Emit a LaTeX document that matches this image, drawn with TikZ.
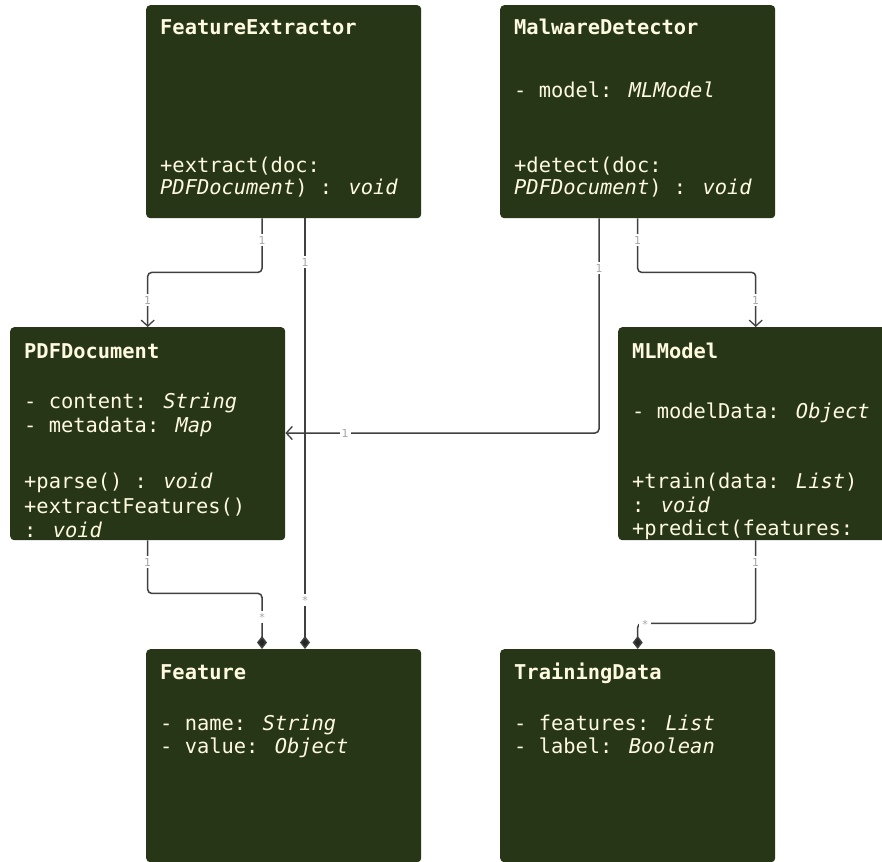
\documentclass[tikz,border=0pt]{standalone}
\usepackage{fontspec}
\usetikzlibrary{arrows.meta,calc}
\newfontfamily\codefont{DejaVu Sans Mono}
\newfontfamily\lblfont{DejaVu Sans}
\definecolor{boxc}{HTML}{283618}
\definecolor{txtc}{HTML}{FEFAE0}
\definecolor{linec}{HTML}{404040}
\tikzset{
  classbox/.style={fill=boxc, rounded corners=4pt, minimum width=275pt,
    minimum height=213pt, inner sep=0pt, anchor=north west},
  member/.style={anchor=base west, inner sep=0pt, text=txtc,
    font=\codefont\fontsize{20.4}{24}\selectfont},
  cname/.style={member, font=\codefont\bfseries\fontsize{20.4}{24}\selectfont},
  conn/.style={draw=linec, line width=1.5pt, rounded corners=4pt},
  assoc/.style={conn, -{Straight Barb[length=6pt,width=13pt,line width=1.3pt]}},
  compo/.style={conn, -{Diamond[length=13pt,width=10pt,fill=black!85]}},
  mult/.style={fill=white, inner sep=2pt, text=black!35,
    font=\lblfont\fontsize{11}{12}\selectfont},
}
\begin{document}
\begin{tikzpicture}[x=1pt,y=-1pt]
\path[use as bounding box, clip] (0,0) rectangle (882,861);
\fill[white] (0,0) rectangle (882,861);

% class boxes
\node[classbox] (fe)  at (146,5)   {};
\node[classbox] (md)  at (500,5)   {};
\node[classbox] (pdf) at (10,327)  {};
\node[classbox] (ml)  at (618,327) {};
\node[classbox] (ft)  at (146,649) {};
\node[classbox] (td)  at (500,649) {};

% FeatureExtractor
\node[cname]  (fe0) at (160,35)  {FeatureExtractor};
\node[member] (fe1) at (160,172) {+extract(doc:};
\node[member] (fe2) at (160,194) {\itshape PDFDocument\upshape) : \itshape void};

% MalwareDetector
\node[cname]  (md0) at (514,35)  {MalwareDetector};
\node[member] (md1) at (514,98)  {- model: \itshape MLModel};
\node[member] (md2) at (514,172) {+detect(doc:};
\node[member] (md3) at (514,194) {\itshape PDFDocument\upshape) : \itshape void};

% PDFDocument
\node[cname]  (pd0) at (24,358)  {PDFDocument};
\node[member] (pd1) at (24,408)  {- content: \itshape String};
\node[member] (pd2) at (24,432)  {- metadata: \itshape Map};
\node[member] (pd3) at (24,488)  {+parse() : \itshape void};
\node[member] (pd4) at (24,513)  {+extractFeatures()};
\node[member] (pd5) at (24,537)  {: \itshape void};

% MLModel
\node[cname]  (ml0) at (632,358) {MLModel};
\node[member] (ml1) at (632,418) {- modelData: \itshape Object};
\node[member] (ml2) at (632,488) {+train(data: \itshape List\upshape)};
\node[member] (ml3) at (632,512) {: \itshape void};
\node[member] (ml4) at (632,535) {+predict(features:};

% Feature
\node[cname]  (ft0) at (160,679) {Feature};
\node[member] (ft1) at (160,730) {- name: \itshape String};
\node[member] (ft2) at (160,753) {- value: \itshape Object};

% TrainingData
\node[cname]  (td0) at (514,679) {TrainingData};
\node[member] (td1) at (514,730) {- features: \itshape List};
\node[member] (td2) at (514,753) {- label: \itshape Boolean};

% connectors
\draw[assoc] ($(fe.south west)+(116,0)$) -- ++(0,54) -| (pdf.north);
\draw[compo] ($(fe.south west)+(159,0)$) -- ($(ft.north west)+(159,0)$);
\draw[compo] (pdf.south) -- ++(0,53) -| ($(ft.north west)+(116,0)$);
\draw[assoc] ($(md.south west)+(99,0)$) |- ($(pdf.north east)+(0,106)$);
\draw[assoc] (md.south) -- ++(0,54) -| (ml.north);
\draw[compo] (ml.south) -- ++(0,83) -| (td.north);

% multiplicities
\node[mult] (m1)  at (262,240)   {1};
\node[mult] (m2)  at (147.5,300) {1};
\node[mult] (m3)  at (305,262)   {1};
\node[mult] (m4)  at (305,600)   {*};
\node[mult] (m5)  at (147.5,562) {1};
\node[mult] (m6)  at (262,617)   {*};
\node[mult] (m7)  at (599,268)   {1};
\node[mult] (m8)  at (345,433)   {1};
\node[mult] (m9)  at (637.5,240) {1};
\node[mult] (m10) at (755.5,300) {1};
\node[mult] (m11) at (755.5,562) {1};
\node[mult, inner sep=3pt] (m12) at (645,624) {*};
\end{tikzpicture}
\end{document}
